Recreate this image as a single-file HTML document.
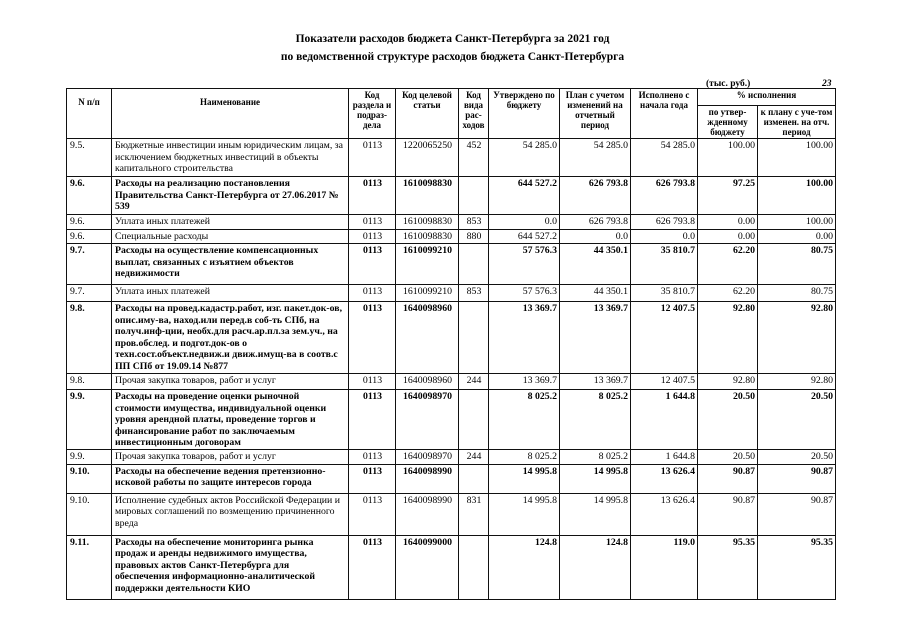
<!DOCTYPE html>
<html><head><meta charset="utf-8">
<style>
body{margin:0;width:905px;height:640px;background:#fff;position:relative;overflow:hidden;font-family:"Liberation Serif",serif;color:#000}
.t{position:absolute;left:0;width:905px;text-align:center;font-weight:bold;font-size:11.5px}
table{position:absolute;left:66px;top:88px;border-collapse:collapse;table-layout:fixed;font-size:9.8px;line-height:11.5px}
td{border:1px solid #111;vertical-align:top;padding:1px 2px 0 3px;overflow:hidden}
th{border:1px solid #111;font-weight:bold;font-size:9px;line-height:10px;vertical-align:top;padding:1px 1px;text-align:center}
.c{text-align:center}.r{text-align:right}.b{font-weight:bold}
</style></head><body>
<div class="t" style="top:33px">Показатели расходов бюджета Санкт-Петербурга за 2021 год</div>
<div class="t" style="top:51px">по ведомственной структуре расходов бюджета Санкт-Петербурга</div>
<div style="position:absolute;left:706px;top:79px;font-size:9.5px;font-weight:bold">(тыс. руб.)</div>
<div style="position:absolute;left:822px;top:79px;font-size:9.5px;font-style:italic;font-weight:bold">23</div>
<table>
<colgroup><col style="width:45px"><col style="width:237px"><col style="width:47px"><col style="width:63px"><col style="width:30px"><col style="width:71px"><col style="width:71px"><col style="width:67px"><col style="width:60px"><col style="width:78px"></colgroup>
<tr style="height:17px"><th rowspan="2" style="padding-top:8px">N п/п</th><th rowspan="2" style="padding-top:8px">Наименование</th><th rowspan="2">Код раздела и подраз-дела</th><th rowspan="2">Код целевой статьи</th><th rowspan="2">Код вида рас-ходов</th><th rowspan="2">Утверждено по бюджету</th><th rowspan="2">План с учетом изменений на отчетный период</th><th rowspan="2">Исполнено с начала года</th><th colspan="2">% исполнения</th></tr>
<tr style="height:31px"><th>по утвер-жденному бюджету</th><th>к плану с уче-том изменен. на отч. период</th></tr>
<tr style="height:38px"><td>9.5.</td><td>Бюджетные инвестиции иным юридическим лицам, за исключением бюджетных инвестиций в объекты капитального строительства</td><td class="c">0113</td><td class="c">1220065250</td><td class="c">452</td><td class="r">54 285.0</td><td class="r">54 285.0</td><td class="r">54 285.0</td><td class="r">100.00</td><td class="r">100.00</td></tr>
<tr style="height:38px" class="b"><td>9.6.</td><td>Расходы на реализацию постановления Правительства Санкт-Петербурга от 27.06.2017 № 539</td><td class="c">0113</td><td class="c">1610098830</td><td></td><td class="r">644 527.2</td><td class="r">626 793.8</td><td class="r">626 793.8</td><td class="r">97.25</td><td class="r">100.00</td></tr>
<tr style="height:15px"><td>9.6.</td><td>Уплата иных платежей</td><td class="c">0113</td><td class="c">1610098830</td><td class="c">853</td><td class="r">0.0</td><td class="r">626 793.8</td><td class="r">626 793.8</td><td class="r">0.00</td><td class="r">100.00</td></tr>
<tr style="height:14px"><td>9.6.</td><td>Специальные расходы</td><td class="c">0113</td><td class="c">1610098830</td><td class="c">880</td><td class="r">644 527.2</td><td class="r">0.0</td><td class="r">0.0</td><td class="r">0.00</td><td class="r">0.00</td></tr>
<tr style="height:41px" class="b"><td>9.7.</td><td>Расходы на осуществление компенсационных выплат, связанных с изъятием объектов недвижимости</td><td class="c">0113</td><td class="c">1610099210</td><td></td><td class="r">57 576.3</td><td class="r">44 350.1</td><td class="r">35 810.7</td><td class="r">62.20</td><td class="r">80.75</td></tr>
<tr style="height:17px"><td>9.7.</td><td>Уплата иных платежей</td><td class="c">0113</td><td class="c">1610099210</td><td class="c">853</td><td class="r">57 576.3</td><td class="r">44 350.1</td><td class="r">35 810.7</td><td class="r">62.20</td><td class="r">80.75</td></tr>
<tr style="height:72px" class="b"><td>9.8.</td><td>Расходы на провед.кадастр.работ, изг. пакет.док-ов, опис.иму-ва, наход.или перед.в соб-ть СПб, на получ.инф-ции, необх.для расч.ар.пл.за зем.уч., на пров.обслед. и подгот.док-ов о техн.сост.объект.недвиж.и движ.имущ-ва в соотв.с ПП СПб от 19.09.14 №877</td><td class="c">0113</td><td class="c">1640098960</td><td></td><td class="r">13 369.7</td><td class="r">13 369.7</td><td class="r">12 407.5</td><td class="r">92.80</td><td class="r">92.80</td></tr>
<tr style="height:16px"><td>9.8.</td><td>Прочая закупка товаров, работ и услуг</td><td class="c">0113</td><td class="c">1640098960</td><td class="c">244</td><td class="r">13 369.7</td><td class="r">13 369.7</td><td class="r">12 407.5</td><td class="r">92.80</td><td class="r">92.80</td></tr>
<tr style="height:57px" class="b"><td>9.9.</td><td>Расходы на проведение оценки рыночной стоимости имущества, индивидуальной оценки уровня арендной платы, проведение торгов и финансирование работ по заключаемым инвестиционным договорам</td><td class="c">0113</td><td class="c">1640098970</td><td></td><td class="r">8 025.2</td><td class="r">8 025.2</td><td class="r">1 644.8</td><td class="r">20.50</td><td class="r">20.50</td></tr>
<tr style="height:15px"><td>9.9.</td><td>Прочая закупка товаров, работ и услуг</td><td class="c">0113</td><td class="c">1640098970</td><td class="c">244</td><td class="r">8 025.2</td><td class="r">8 025.2</td><td class="r">1 644.8</td><td class="r">20.50</td><td class="r">20.50</td></tr>
<tr style="height:29px" class="b"><td>9.10.</td><td>Расходы на обеспечение ведения претензионно-исковой работы по защите интересов города</td><td class="c">0113</td><td class="c">1640098990</td><td></td><td class="r">14 995.8</td><td class="r">14 995.8</td><td class="r">13 626.4</td><td class="r">90.87</td><td class="r">90.87</td></tr>
<tr style="height:42px"><td>9.10.</td><td>Исполнение судебных актов Российской Федерации и мировых соглашений по возмещению причиненного вреда</td><td class="c">0113</td><td class="c">1640098990</td><td class="c">831</td><td class="r">14 995.8</td><td class="r">14 995.8</td><td class="r">13 626.4</td><td class="r">90.87</td><td class="r">90.87</td></tr>
<tr style="height:64px" class="b"><td>9.11.</td><td>Расходы на обеспечение мониторинга рынка продаж и аренды недвижимого имущества, правовых актов Санкт-Петербурга для обеспечения информационно-аналитической поддержки деятельности КИО</td><td class="c">0113</td><td class="c">1640099000</td><td></td><td class="r">124.8</td><td class="r">124.8</td><td class="r">119.0</td><td class="r">95.35</td><td class="r">95.35</td></tr>
</table>
</body></html>
